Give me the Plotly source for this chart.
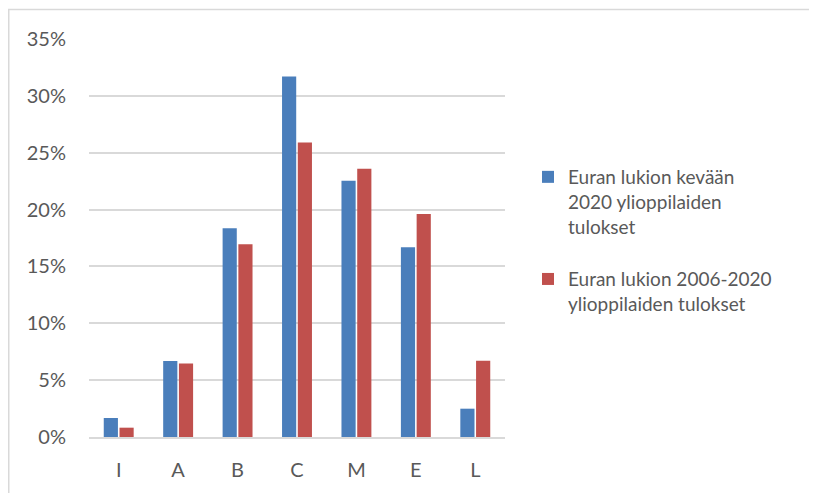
import plotly.graph_objects as go

categories = ["I", "A", "B", "C", "M", "E", "L"]
spring_2020 = [0.0167, 0.0668, 0.1835, 0.317, 0.2254, 0.1668, 0.0249]
years_2006_2020 = [0.0082, 0.0647, 0.1694, 0.259, 0.236, 0.196, 0.0671]
series_names = [
    "Euran lukion kevään<br>2020 ylioppilaiden<br>tulokset",
    "Euran lukion 2006-2020<br>ylioppilaiden tulokset",
]
y_ticks = [0, 0.05, 0.10, 0.15, 0.20, 0.25, 0.30, 0.35]

FONT = "Lato"
GREY = "#595959"

# page has an 8px body margin; figure is 809x485 so it fills the 817x493 window
W, H = 809, 485
L, T = 81, 31
PW, PH = 416, 398

fig = go.Figure()
fig.add_trace(go.Bar(x=categories, y=spring_2020, name=series_names[0], legendgroup="g1",
                     marker=dict(color="#4A7EBB", line=dict(width=0))))
fig.add_trace(go.Bar(x=categories, y=years_2006_2020, name=series_names[1], legendgroup="g2",
                     marker=dict(color="#C0504D", line=dict(width=0))))

fig.update_layout(
    width=W, height=H,
    margin=dict(l=L, r=W - L - PW, t=T, b=H - T - PH),
    paper_bgcolor="white", plot_bgcolor="white",
    barmode="group", bargap=0.47, bargroupgap=0.1,
    font=dict(family=FONT, color=GREY),
    showlegend=True,
    legend=dict(x=(528 - 89) / PW, xanchor="left", y=(437 - 158) / PH, yanchor="top",
                valign="top",
                font=dict(family=FONT, size=19, color=GREY),
                tracegroupgap=25, itemwidth=30, bgcolor="rgba(0,0,0,0)"),
    shapes=[dict(type="rect", xref="paper", yref="paper",
                 x0=(0.75 - L) / PW, x1=(W + 20 - L) / PW,
                 y0=-100 / PH, y1=(T + PH - 1.5) / PH,
                 line=dict(color="#D9D9D9", width=1.5), fillcolor="rgba(0,0,0,0)")],
)
fig.update_xaxes(showgrid=False, showline=True, linecolor="#D9D9D9", linewidth=1.5,
                 ticks="", tickfont=dict(size=20, color=GREY, family=FONT),
                 ticklabelstandoff=14, fixedrange=True)
fig.update_yaxes(range=[0, 0.35], tickvals=y_ticks, tickformat=".0%",
                 showgrid=True, gridcolor="#D9D9D9", gridwidth=1.5,
                 zeroline=False, showline=False, ticks="",
                 tickfont=dict(size=20, color=GREY, family=FONT),
                 ticklabelstandoff=22, fixedrange=True)

fig.write_html("out.html")
